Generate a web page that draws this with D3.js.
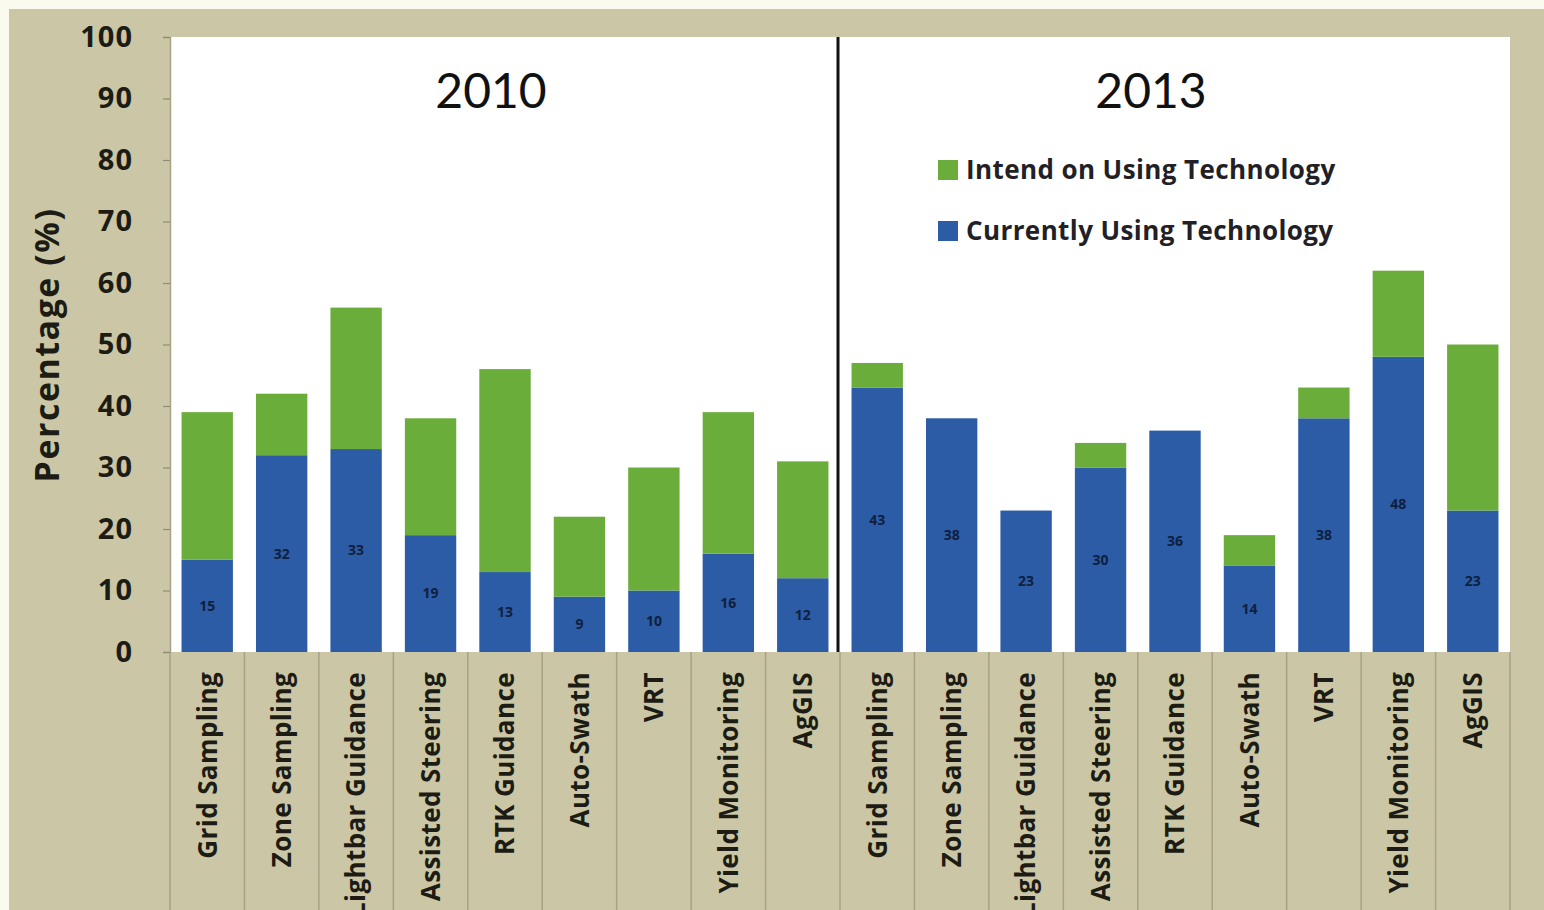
<!DOCTYPE html>
<html>
<head>
<meta charset="utf-8">
<script src="https://cdn.jsdelivr.net/npm/d3@7"></script>
<style>
  html, body { margin: 0; padding: 0; background: #fbfaee; }
  svg { display: block; }
</style>
</head>
<body>
<svg id="chart" width="1544" height="910"></svg>
<script>
// Technologies surveyed, repeated for each survey year
const technologies = ["Grid Sampling", "Zone Sampling", "Lightbar Guidance", "Assisted Steering",
  "RTK Guidance", "Auto-Swath", "VRT", "Yield Monitoring", "AgGIS"];
const years = ["2010", "2013"];

// Percent of respondents currently using each technology
const current2010 = [15, 32, 33, 19, 13, 9, 10, 16, 12];
const current2013 = [43, 38, 23, 30, 36, 14, 38, 48, 23];
// Additional percent intending to use it
const intend2010 = [24, 10, 23, 19, 33, 13, 20, 23, 19];
const intend2013 = [4, 0, 0, 4, 0, 5, 5, 14, 27];

const yTicks = [0, 10, 20, 30, 40, 50, 60, 70, 80, 90, 100];
const seriesNames = ["Intend on Using Technology", "Currently Using Technology"];
const seriesColors = ["#6aad3a", "#2b5ca5"];

// Build flat rows (one per bar)
const rows = [];
years.forEach((yr, yi) => {
  const cur = yi === 0 ? current2010 : current2013;
  const intd = yi === 0 ? intend2010 : intend2013;
  technologies.forEach((t, i) => {
    rows.push({ key: yr + "|" + t, year: yr, tech: t, current: cur[i], intend: intd[i] });
  });
});

const svg = d3.select("#chart");
const W = 1544, H = 910;
const plot = { left: 170, right: 1510, top: 37, bottom: 652 };
const font = "'Open Sans', sans-serif";
const titleFont = "Lato, sans-serif";

// Outer panel
svg.append("rect").attr("x", 9).attr("y", 9).attr("width", W - 9).attr("height", H - 9)
  .attr("fill", "#cbc7a6");
// Plot area
svg.append("rect").attr("x", plot.left).attr("y", plot.top)
  .attr("width", plot.right - plot.left).attr("height", plot.bottom - plot.top)
  .attr("fill", "#ffffff");

const x = d3.scaleBand().domain(rows.map(d => d.key))
  .range([plot.left, plot.right]).paddingInner(0.31).paddingOuter(0.155);
const y = d3.scaleLinear().domain([0, 100]).range([plot.bottom, plot.top]);

// Category separators below the axis
const step = x.step();
const bounds = d3.range(rows.length + 1).map(i => plot.left + i * step);
svg.append("g").selectAll("line").data(bounds).join("line")
  .attr("x1", d => d).attr("x2", d => d)
  .attr("y1", plot.bottom).attr("y2", H)
  .attr("stroke", "#a6a288").attr("stroke-width", 1.5);

// Y axis
const yAxis = svg.append("g").attr("transform", `translate(${plot.left},0)`)
  .call(d3.axisLeft(y).tickValues(yTicks).tickSize(7).tickPadding(30));
yAxis.select(".domain").attr("stroke", "#a6a288").attr("stroke-width", 1.5);
yAxis.selectAll(".tick line").attr("stroke", "#8f8b74").attr("stroke-width", 1.2);
yAxis.selectAll(".tick text")
  .attr("font-family", font).attr("font-weight", "bold").attr("font-size", 29)
  .attr("letter-spacing", 1)
  .attr("fill", "#1c1c14");

// Stacked bars: current (bottom) and intend (top)
const bars = svg.append("g");
bars.selectAll("rect.cur").data(rows).join("rect").attr("class", "cur")
  .attr("x", d => x(d.key)).attr("width", x.bandwidth())
  .attr("y", d => y(d.current)).attr("height", d => y(0) - y(d.current))
  .attr("fill", seriesColors[1]);
bars.selectAll("rect.int").data(rows.filter(d => d.intend > 0)).join("rect").attr("class", "int")
  .attr("x", d => x(d.key)).attr("width", x.bandwidth())
  .attr("y", d => y(d.current + d.intend)).attr("height", d => y(d.current) - y(d.current + d.intend))
  .attr("fill", seriesColors[0]);

// Value labels centred on the current-use segment
bars.selectAll("text").data(rows).join("text")
  .attr("x", d => x(d.key) + x.bandwidth() / 2)
  .attr("y", d => y(d.current / 2))
  .attr("dy", "0.35em").attr("text-anchor", "middle")
  .attr("font-family", font).attr("font-weight", "bold").attr("font-size", 14)
  .attr("fill", "#0f1f3f")
  .text(d => d.current);

// Year divider
const divX = plot.left + technologies.length * step - 2;
svg.append("line").attr("x1", divX).attr("x2", divX)
  .attr("y1", plot.top).attr("y2", plot.bottom)
  .attr("stroke", "#111").attr("stroke-width", 3);

// Year titles
const yearCenters = [491, 1151];
svg.append("g").selectAll("text").data(years).join("text")
  .attr("x", (d, i) => yearCenters[i]).attr("y", 108)
  .attr("text-anchor", "middle")
  .attr("font-family", titleFont).attr("font-size", 48).attr("fill", "#111")
  .text(d => d);

// Category labels, rotated
svg.append("g").selectAll("text").data(rows).join("text")
  .attr("transform", d => `translate(${x(d.key) + x.bandwidth() / 2},672) rotate(-90)`)
  .attr("dy", "0.36em").attr("text-anchor", "end")
  .attr("font-family", font).attr("font-weight", "bold").attr("font-size", 26)
  .attr("letter-spacing", 0.4)
  .attr("fill", "#1c1c14")
  .text(d => d.tech);

// Y axis title
svg.append("text")
  .attr("transform", "translate(47,345) rotate(-90)")
  .attr("dy", "0.35em").attr("text-anchor", "middle")
  .attr("font-family", font).attr("font-weight", "bold").attr("font-size", 34)
  .attr("letter-spacing", 1.5)
  .attr("fill", "#1c1c14")
  .text("Percentage (%)");

// Legend
const legend = svg.append("g").selectAll("g").data(seriesNames).join("g")
  .attr("transform", (d, i) => `translate(938,${160 + i * 61})`);
legend.append("rect").attr("width", 20).attr("height", 20)
  .attr("fill", (d, i) => seriesColors[i]);
legend.append("text").attr("x", 28).attr("y", 10).attr("dy", "0.36em")
  .attr("font-family", font).attr("font-weight", "bold").attr("font-size", 26)
  .attr("letter-spacing", 0.4)
  .attr("fill", "#221f26")
  .text(d => d);
</script>
</body>
</html>
